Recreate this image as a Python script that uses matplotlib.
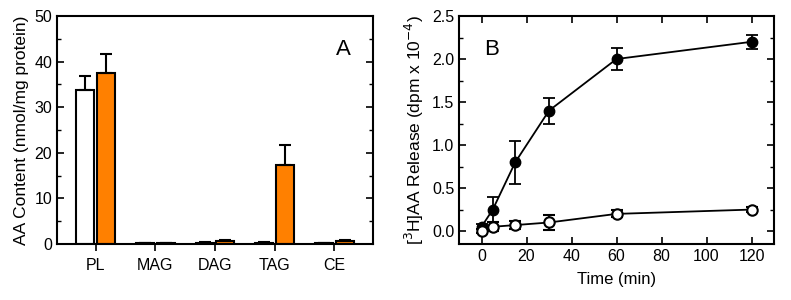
import numpy as np
import matplotlib
matplotlib.use('Agg')
from matplotlib import pyplot as plt
from matplotlib.ticker import MultipleLocator, FormatStrFormatter

plt.rcParams['font.family'] = ['Liberation Sans', 'DejaVu Sans']
plt.rcParams['font.size'] = 11.5

# panel A data
lipids = ['PL', 'MAG', 'DAG', 'TAG', 'CE']
ctrl = [33.7, 0.2, 0.3, 0.3, 0.2]
ctrl_err = [3.1, 0.1, 0.1, 0.1, 0.1]
treat = [37.4, 0.2, 0.6, 17.3, 0.7]
treat_err = [4.2, 0.1, 0.3, 4.5, 0.2]

# panel B data
time = [0, 5, 15, 30, 60, 120]
filled = [0.05, 0.25, 0.80, 1.40, 2.00, 2.20]
filled_err = [0.03, 0.15, 0.25, 0.15, 0.13, 0.08]
opened = [0.00, 0.05, 0.07, 0.10, 0.20, 0.25]
opened_err = [0.02, 0.05, 0.05, 0.09, 0.04, 0.03]

fig = plt.figure(figsize=(7.91, 3.0), dpi=100)
axA = fig.add_axes([57/791, 1-244/300, 316/791, 228/300])
axB = fig.add_axes([459/791, 1-244/300, 315/791, 228/300])

orange = '#ff8000'
x = np.arange(len(lipids))
w = 0.3
axA.bar(x - 0.175, ctrl, w, color='white', edgecolor='black', linewidth=1.5,
        yerr=[np.zeros(len(x)), ctrl_err], capsize=4,
        error_kw=dict(elinewidth=1.5, capthick=1.5))
axA.bar(x + 0.175, treat, w, color=orange, edgecolor='black', linewidth=1.5,
        yerr=[np.zeros(len(x)), treat_err], capsize=4,
        error_kw=dict(elinewidth=1.5, capthick=1.5))
axA.set_xticks(x)
axA.set_xticklabels(lipids)
axA.set_xlim(-0.65, 4.65)
axA.set_ylim(0, 50)
axA.yaxis.set_major_locator(MultipleLocator(10))
axA.yaxis.set_minor_locator(MultipleLocator(5))
axA.tick_params(axis='x', length=0, pad=5)
axA.tick_params(axis='y', which='both', direction='in', left=True, right=True)
axA.set_ylabel('AA Content (nmol/mg protein)', fontsize=12.5)
axA.text(0.93, 0.83, 'A', transform=axA.transAxes, fontsize=16, ha='right')

axB.errorbar(time, filled, yerr=filled_err, color='black', marker='o',
             markersize=7.5, mfc='black', mec='black', lw=1.3, capsize=4,
             elinewidth=1.3, capthick=1.3)
axB.errorbar(time, opened, yerr=opened_err, color='black', marker='o',
             markersize=7.5, mfc='white', mec='black', mew=1.5, lw=1.3,
             capsize=4, elinewidth=1.3, capthick=1.3)
axB.set_xlim(-10, 130)
axB.set_ylim(-0.15, 2.5)
axB.xaxis.set_major_locator(MultipleLocator(20))
axB.yaxis.set_major_locator(MultipleLocator(0.5))
axB.yaxis.set_minor_locator(MultipleLocator(0.25))
axB.yaxis.set_major_formatter(FormatStrFormatter('%.1f'))
axB.tick_params(which='both', direction='in', top=True, right=True)
axB.set_xlabel('Time (min)', fontsize=12, labelpad=6)
axB.set_ylabel(r'[$^{3}$H]AA Release (dpm x 10$^{-4}$)', fontsize=12.5)
axB.text(0.08, 0.83, 'B', transform=axB.transAxes, fontsize=16)

for ax in (axA, axB):
    for s in ax.spines.values():
        s.set_linewidth(1.5)
    ax.tick_params(which='major', length=5, width=1.2, labelsize=11.5)
    ax.tick_params(which='minor', length=3, width=1.0)

fig.savefig('out.png', dpi=100)
